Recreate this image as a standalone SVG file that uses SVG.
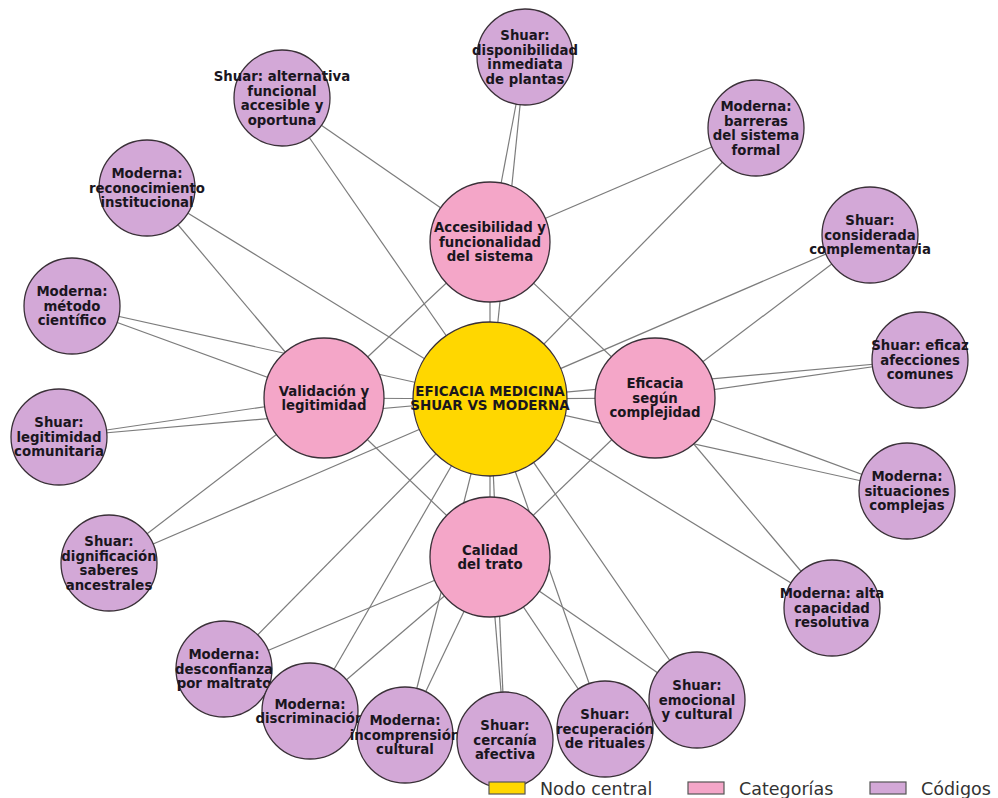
<svg xmlns="http://www.w3.org/2000/svg" width="998" height="798" viewBox="0 0 998 798">
<style>
.e{stroke:#7c7c7c;stroke-width:1.2;fill:none}
.n circle{stroke:#3a3038;stroke-width:1.3}
.cen circle{fill:#FFD700}
.cat circle{fill:#F4A6C8}
.cod circle{fill:#D3A8D7}
.n text{font-family:"DejaVu Sans",sans-serif;font-weight:bold;font-size:13.3px;fill:#1a161e;text-anchor:middle}
.cen text{font-size:13.5px}
.lg text{font-family:"DejaVu Sans",sans-serif;font-size:17.5px;fill:#333}
.lg rect{stroke:#555;stroke-width:1.2}
</style>
<rect width="998" height="798" fill="#fff"/>
<g id="edges">
<line class="e" x1="490" y1="399" x2="490" y2="242"/>
<line class="e" x1="490" y1="399" x2="324" y2="398"/>
<line class="e" x1="490" y1="399" x2="655" y2="398"/>
<line class="e" x1="490" y1="399" x2="490" y2="557"/>
<line class="e" x1="490" y1="242" x2="324" y2="398"/>
<line class="e" x1="490" y1="242" x2="655" y2="398"/>
<line class="e" x1="324" y1="398" x2="490" y2="557"/>
<line class="e" x1="655" y1="398" x2="490" y2="557"/>
<line class="e" x1="282" y1="98" x2="490" y2="399"/><line class="e" x1="282" y1="98" x2="490" y2="242"/>
<line class="e" x1="525" y1="57" x2="490" y2="399"/><line class="e" x1="525" y1="57" x2="490" y2="242"/>
<line class="e" x1="756" y1="128" x2="490" y2="399"/><line class="e" x1="756" y1="128" x2="490" y2="242"/>
<line class="e" x1="147" y1="188" x2="490" y2="399"/><line class="e" x1="147" y1="188" x2="324" y2="398"/>
<line class="e" x1="870" y1="235" x2="490" y2="399"/><line class="e" x1="870" y1="235" x2="655" y2="398"/>
<line class="e" x1="72" y1="306" x2="490" y2="399"/><line class="e" x1="72" y1="306" x2="324" y2="398"/>
<line class="e" x1="920" y1="360" x2="490" y2="399"/><line class="e" x1="920" y1="360" x2="655" y2="398"/>
<line class="e" x1="59" y1="437" x2="490" y2="399"/><line class="e" x1="59" y1="437" x2="324" y2="398"/>
<line class="e" x1="907" y1="491" x2="490" y2="399"/><line class="e" x1="907" y1="491" x2="655" y2="398"/>
<line class="e" x1="109" y1="563" x2="490" y2="399"/><line class="e" x1="109" y1="563" x2="324" y2="398"/>
<line class="e" x1="832" y1="608" x2="490" y2="399"/><line class="e" x1="832" y1="608" x2="655" y2="398"/>
<line class="e" x1="224" y1="669" x2="490" y2="399"/><line class="e" x1="224" y1="669" x2="490" y2="557"/>
<line class="e" x1="697" y1="700" x2="490" y2="399"/><line class="e" x1="697" y1="700" x2="490" y2="557"/>
<line class="e" x1="310" y1="711" x2="490" y2="399"/><line class="e" x1="310" y1="711" x2="490" y2="557"/>
<line class="e" x1="405" y1="735" x2="490" y2="399"/><line class="e" x1="405" y1="735" x2="490" y2="557"/>
<line class="e" x1="505" y1="740" x2="490" y2="399"/><line class="e" x1="505" y1="740" x2="490" y2="557"/>
<line class="e" x1="605" y1="729" x2="490" y2="399"/><line class="e" x1="605" y1="729" x2="490" y2="557"/>
</g>
<g id="central" class="n cen"><circle cx="490" cy="399" r="77"/><text x="490" y="395.5">EFICACIA MEDICINA<tspan x="490" y="410">SHUAR VS MODERNA</tspan></text></g>
<g id="cat-accesibilidad" class="n cat"><circle cx="490" cy="242" r="60"/><text x="490" y="232.2">Accesibilidad y<tspan x="490" y="246.7">funcionalidad</tspan><tspan x="490" y="261.2">del sistema</tspan></text></g>
<g id="cat-validacion" class="n cat"><circle cx="324" cy="398" r="60"/><text x="324" y="395.5">Validación y<tspan x="324" y="410">legitimidad</tspan></text></g>
<g id="cat-eficacia" class="n cat"><circle cx="655" cy="398" r="60"/><text x="655" y="388.2">Eficacia<tspan x="655" y="402.7">según</tspan><tspan x="655" y="417.2">complejidad</tspan></text></g>
<g id="cat-calidad" class="n cat"><circle cx="490" cy="557" r="60"/><text x="490" y="554.5">Calidad<tspan x="490" y="569">del trato</tspan></text></g>
<g id="c-alternativa" class="n cod"><circle cx="282" cy="98" r="48"/><text x="282" y="81">Shuar: alternativa<tspan x="282" y="95.5">funcional</tspan><tspan x="282" y="110">accesible y</tspan><tspan x="282" y="124.5">oportuna</tspan></text></g>
<g id="c-disponibilidad" class="n cod"><circle cx="525" cy="57" r="48"/><text x="525" y="40">Shuar:<tspan x="525" y="54.5">disponibilidad</tspan><tspan x="525" y="69">inmediata</tspan><tspan x="525" y="83.5">de plantas</tspan></text></g>
<g id="c-barreras" class="n cod"><circle cx="756" cy="128" r="48"/><text x="756" y="111">Moderna:<tspan x="756" y="125.5">barreras</tspan><tspan x="756" y="140">del sistema</tspan><tspan x="756" y="154.5">formal</tspan></text></g>
<g id="c-reconocimiento" class="n cod"><circle cx="147" cy="188" r="48"/><text x="147" y="178.2">Moderna:<tspan x="147" y="192.7">reconocimiento</tspan><tspan x="147" y="207.2">institucional</tspan></text></g>
<g id="c-considerada" class="n cod"><circle cx="870" cy="235" r="48"/><text x="870" y="225.2">Shuar:<tspan x="870" y="239.7">considerada</tspan><tspan x="870" y="254.2">complementaria</tspan></text></g>
<g id="c-metodo" class="n cod"><circle cx="72" cy="306" r="48"/><text x="72" y="296.2">Moderna:<tspan x="72" y="310.7">método</tspan><tspan x="72" y="325.2">científico</tspan></text></g>
<g id="c-eficaz" class="n cod"><circle cx="920" cy="360" r="48"/><text x="920" y="350.2">Shuar: eficaz<tspan x="920" y="364.7">afecciones</tspan><tspan x="920" y="379.2">comunes</tspan></text></g>
<g id="c-legitimidad" class="n cod"><circle cx="59" cy="437" r="48"/><text x="59" y="427.2">Shuar:<tspan x="59" y="441.7">legitimidad</tspan><tspan x="59" y="456.2">comunitaria</tspan></text></g>
<g id="c-situaciones" class="n cod"><circle cx="907" cy="491" r="48"/><text x="907" y="481.2">Moderna:<tspan x="907" y="495.7">situaciones</tspan><tspan x="907" y="510.2">complejas</tspan></text></g>
<g id="c-dignificacion" class="n cod"><circle cx="109" cy="563" r="48"/><text x="109" y="546">Shuar:<tspan x="109" y="560.5">dignificación</tspan><tspan x="109" y="575">saberes</tspan><tspan x="109" y="589.5">ancestrales</tspan></text></g>
<g id="c-alta-capacidad" class="n cod"><circle cx="832" cy="608" r="48"/><text x="832" y="598.2">Moderna: alta<tspan x="832" y="612.7">capacidad</tspan><tspan x="832" y="627.2">resolutiva</tspan></text></g>
<g id="c-desconfianza" class="n cod"><circle cx="224" cy="669" r="48"/><text x="224" y="659.2">Moderna:<tspan x="224" y="673.7">desconfianza</tspan><tspan x="224" y="688.2">por maltrato</tspan></text></g>
<g id="c-discriminacion" class="n cod"><circle cx="310" cy="711" r="48"/><text x="310" y="708.5">Moderna:<tspan x="310" y="723">discriminación</tspan></text></g>
<g id="c-incomprension" class="n cod"><circle cx="405" cy="735" r="48"/><text x="405" y="725.2">Moderna:<tspan x="405" y="739.7">incomprensión</tspan><tspan x="405" y="754.2">cultural</tspan></text></g>
<g id="c-cercania" class="n cod"><circle cx="505" cy="740" r="48"/><text x="505" y="730.2">Shuar:<tspan x="505" y="744.7">cercanía</tspan><tspan x="505" y="759.2">afectiva</tspan></text></g>
<g id="c-recuperacion" class="n cod"><circle cx="605" cy="729" r="48"/><text x="605" y="719.2">Shuar:<tspan x="605" y="733.7">recuperación</tspan><tspan x="605" y="748.2">de rituales</tspan></text></g>
<g id="c-emocional" class="n cod"><circle cx="697" cy="700" r="48"/><text x="697" y="690.2">Shuar:<tspan x="697" y="704.7">emocional</tspan><tspan x="697" y="719.2">y cultural</tspan></text></g>
<g id="legend" class="lg">
<rect x="489" y="782" width="36" height="12" fill="#FFD700"/><text x="540" y="795">Nodo central</text>
<rect x="688" y="782" width="36" height="12" fill="#F4A6C8"/><text x="739" y="795">Categorías</text>
<rect x="870" y="782" width="36" height="12" fill="#D3A8D7"/><text x="921" y="795">Códigos</text>
</g>
</svg>
